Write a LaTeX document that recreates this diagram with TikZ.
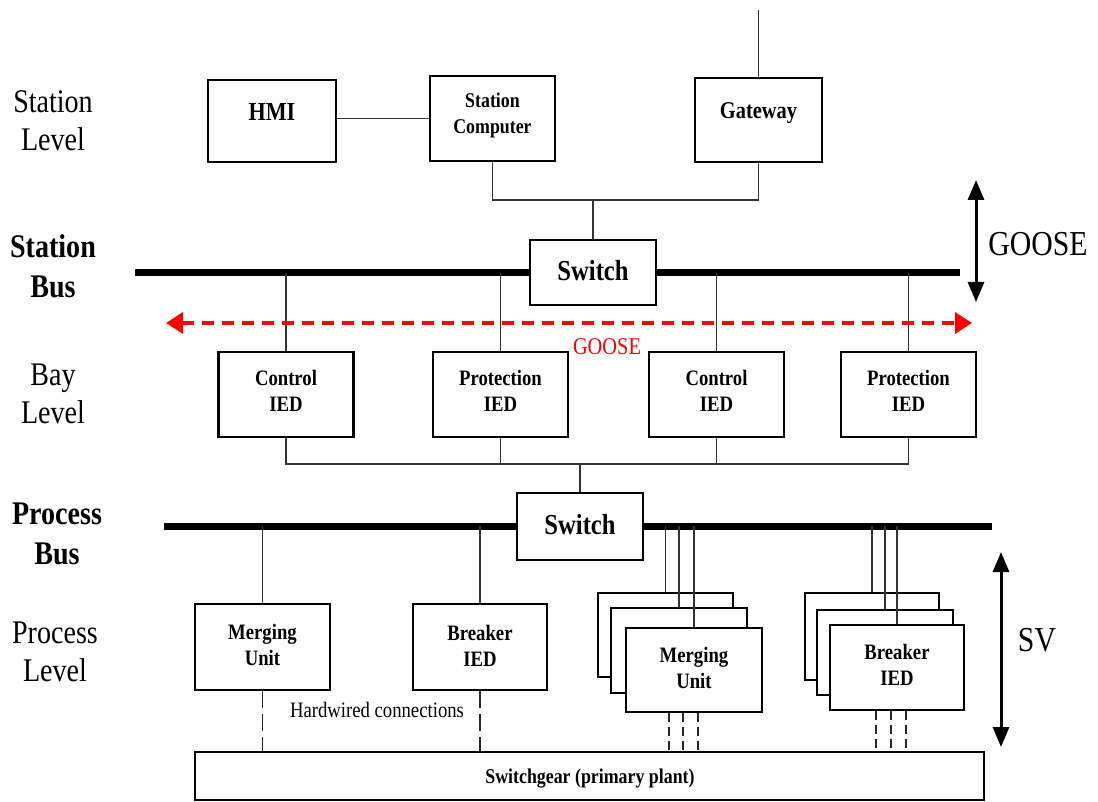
\documentclass[tikz,border=0pt]{standalone}
\usepackage{fontspec}
\setmainfont{Liberation Serif}[FakeStretch=0.85]
\usetikzlibrary{arrows.meta}
\newcommand\fsz[2]{\fontsize{#1}{#2}\selectfont}
\definecolor{gooseRed}{RGB}{255,0,0}
\begin{document}
\begin{tikzpicture}[x=1pt,y=-1pt,
  box/.style={draw, line width=2.4pt, fill=white, inner sep=0pt},
  conn/.style={line width=1.3pt, draw=black!80},
  hw/.style={line width=1.6pt, draw=black!85, dash pattern=on 17pt off 6pt},
  hwsmall/.style={line width=1.6pt, draw=black!85, dash pattern=on 9pt off 5pt},
  bus/.style={line width=7pt},
  txt/.style={inner sep=0pt, align=center},
  bt/.style={txt, font=\bfseries\fsz{22}{26}},
  lvl/.style={txt, font=\fsz{33}{38}},
  lvlb/.style={txt, font=\bfseries\fsz{33}{40}},
]
\useasboundingbox (0,0) rectangle (1098,802);

% level labels
\node[lvl]  (lStationLevel) at (53,121) {Station\\Level};
\node[lvlb] (lStationBus)   at (53,266) {Station\\Bus};
\node[lvl]  (lBayLevel)     at (53,394) {Bay\\Level};
\node[lvlb] (lProcessBus)   at (57,534) {Process\\Bus};
\node[lvl]  (lProcessLevel) at (55,652) {Process\\Level};

% buses
\coordinate (sbL) at (135,273);
\coordinate (sbR) at (960,273);
\coordinate (pbL) at (164,526);
\coordinate (pbR) at (992,526);
\draw[bus] (sbL) -- (sbR);
\draw[bus] (pbL) -- (pbR);

% station level boxes
\node[box, minimum width=128pt, minimum height=82pt] (hmi) at (272,121) {};
\node[box, minimum width=125pt, minimum height=85pt] (sc)  at (492.5,118.5) {};
\node[box, minimum width=127pt, minimum height=84pt] (gw)  at (758.5,120) {};
\node[bt, font=\bfseries\fsz{26}{30}] (hmiT) at (272,112) {HMI};
\node[bt, font=\bfseries\fsz{21}{26}] (scT)  at (492.5,115) {Station\\Computer};
\node[bt, font=\bfseries\fsz{24}{28}] (gwT)  at (758.5,113) {Gateway};

\coordinate (gwUp) at (758.5,10);
\coordinate (j1) at (593,200);
\draw[conn] (gwUp) -- (gw.north);
\draw[conn] (hmi.east |- sc.west) -- (sc.west);
\draw[conn] (sc.south) |- (j1) -| (gw.south);

% station switch
\node[box, minimum width=126pt, minimum height=65pt] (sw1) at (593,272.5) {};
\node[bt, font=\bfseries\fsz{29}{32}] (sw1T) at (593,271) {Switch};
\draw[conn] (j1) -- (sw1.north);

% GOOSE vertical arrow
\coordinate (gA) at (976,180);
\coordinate (gB) at (976,302);
\draw[line width=3pt, {Triangle[length=20pt,width=16pt]}-{Triangle[length=20pt,width=16pt]}] (gA) -- (gB);
\node[txt, font=\fsz{35}{38}] (gooseT) at (1038,244) {GOOSE};

% bay IEDs
\node[box, minimum width=135pt, minimum height=85pt] (c1) at (286,394.5) {};
\node[box, minimum width=135pt, minimum height=85pt] (p1) at (500.5,394.5) {};
\node[box, minimum width=135pt, minimum height=85pt] (c2) at (716.5,394.5) {};
\node[box, minimum width=135pt, minimum height=85pt] (p2) at (908.5,394.5) {};
\node[bt] (c1T) at (286,391) {Control\\IED};
\node[bt] (p1T) at (500.5,391) {Protection\\IED};
\node[bt] (c2T) at (716.5,391) {Control\\IED};
\node[bt] (p2T) at (908.5,391) {Protection\\IED};
\foreach \n in {c1,p1,c2,p2} \draw[conn] (\n.north) -- (\n.north |- sbL);

% red GOOSE arrow
\coordinate (rA) at (166,323);
\coordinate (rB) at (972,323);
\draw[gooseRed, line width=3.6pt, dash pattern=on 12pt off 8pt, {Triangle[length=17pt,width=21pt]}-{Triangle[length=17pt,width=21pt]}] (rA) -- (rB);
\node[txt, text=gooseRed, font=\fsz{24}{28}] (gooseRT) at (607,347) {GOOSE};

% bay to process switch
\coordinate (j2) at (580,464);
\node[box, minimum width=126pt, minimum height=67pt] (sw2) at (580,526.5) {};
\node[bt, font=\bfseries\fsz{29}{32}] (sw2T) at (580,525) {Switch};
\draw[conn] (c1.south) |- (p2.south |- j2) -- (p2.south);
\draw[conn] (p1.south) -- (p1.south |- j2);
\draw[conn] (c2.south) -- (c2.south |- j2);
\draw[conn] (j2) -- (sw2.north);

% process level single boxes
\node[box, minimum width=135pt, minimum height=86pt] (mu1) at (262.5,647) {};
\node[box, minimum width=134pt, minimum height=86pt] (bk1) at (480,647) {};
\node[bt] (mu1T) at (262.5,644.5) {Merging\\Unit};
\node[bt] (bk1T) at (480,645.5) {Breaker\\IED};
\draw[conn] (mu1.north) -- (mu1.north |- pbL);
\draw[conn] (bk1.north) -- (bk1.north |- pbL);

% stacked merging units
\node[box, minimum width=135pt, minimum height=84pt] (muA) at (665.5,635) {};
\node[box, minimum width=136pt, minimum height=85pt] (muB) at (679,650.5) {};
\node[box, minimum width=136pt, minimum height=84pt] (muC) at (694,670) {};
\node[bt] (muCT) at (694,668) {Merging\\Unit};
\draw[conn] (muA.north) -- (muA.north |- pbL);
\draw[conn] (muB.north) -- (muB.north |- pbL);
\draw[conn] (muC.north) -- (muC.north |- pbL);

% stacked breaker IEDs
\node[box, minimum width=134pt, minimum height=87pt] (bkA) at (872,636.5) {};
\node[box, minimum width=136pt, minimum height=85pt] (bkB) at (885,652.5) {};
\node[box, minimum width=134pt, minimum height=85pt] (bkC) at (897,667.5) {};
\node[bt] (bkCT) at (897,664.5) {Breaker\\IED};
\draw[conn] (bkA.north) -- (bkA.north |- pbL);
\draw[conn] (bkB.north) -- (bkB.north |- pbL);
\draw[conn] (bkC.north) -- (bkC.north |- pbL);

% switchgear
\node[box, line width=2pt, minimum width=789pt, minimum height=48pt] (sg) at (589.5,776) {};
\node[bt, font=\bfseries\fsz{21}{24}] (sgT) at (590,779) {Switchgear (primary plant)};

% hardwired connections
\draw[hw] (mu1.south) -- (mu1.south |- sg.north);
\draw[hw] (bk1.south) -- (bk1.south |- sg.north);
\node[txt, font=\fsz{22}{24}] (hwT) at (377,710) {Hardwired connections};
\foreach \d in {-25,-11,4} \draw[hwsmall] ([xshift=\d pt]muC.south) -- ([xshift=\d pt]muC.south |- sg.north);
\foreach \d in {-21,-6,9} \draw[hwsmall] ([xshift=\d pt]bkC.south) -- ([xshift=\d pt]bkC.south |- sg.north);

% SV arrow
\coordinate (svA) at (1001,552);
\coordinate (svB) at (1001,747);
\draw[line width=3pt, {Triangle[length=20pt,width=16pt]}-{Triangle[length=20pt,width=16pt]}] (svA) -- (svB);
\node[txt, font=\fsz{35}{38}] (svT) at (1037,640) {SV};
\end{tikzpicture}
\end{document}
